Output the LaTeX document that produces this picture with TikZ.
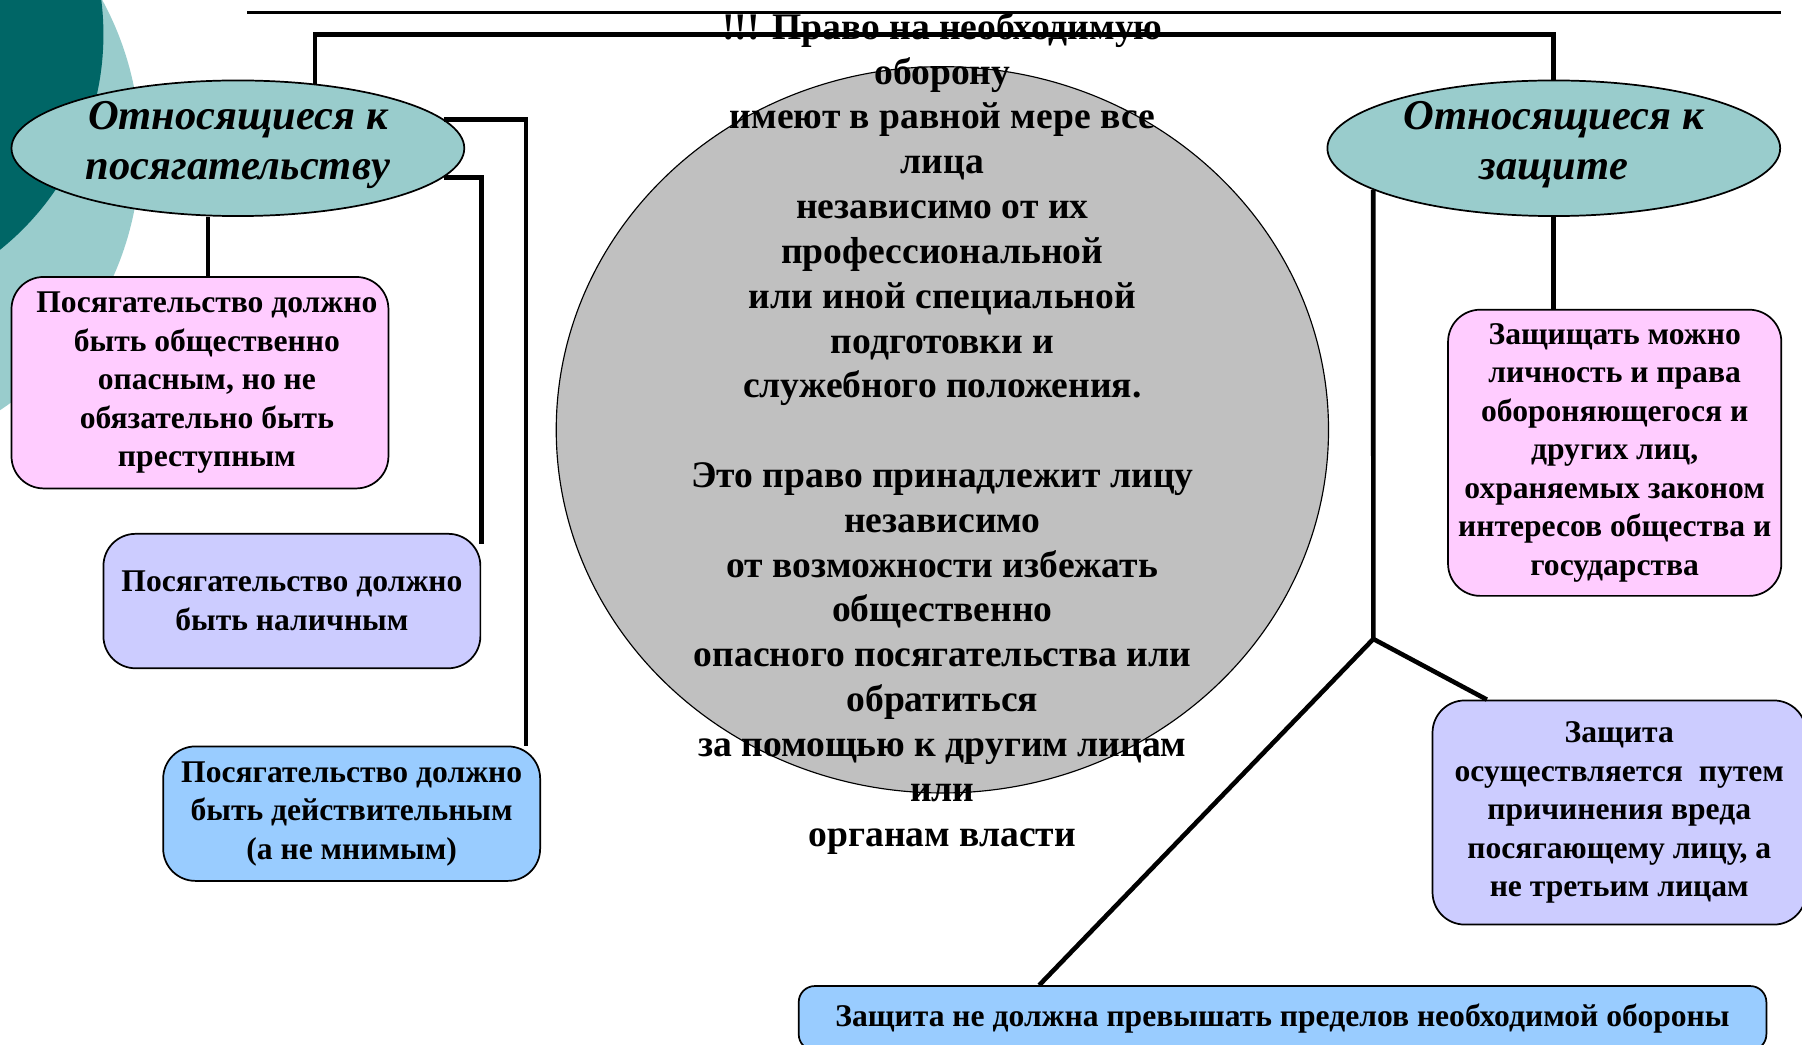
\documentclass[tikz,border=0pt]{standalone}
\usepackage{fontspec}
\setmainfont{Liberation Serif}
\usetikzlibrary{shapes.geometric}
\definecolor{tealdark}{HTML}{006666}
\definecolor{teallight}{HTML}{99CCCC}
\definecolor{pinkbox}{HTML}{FFCCFF}
\definecolor{lilacbox}{HTML}{CCCCFF}
\definecolor{bluebox}{HTML}{99CCFF}
\definecolor{circgray}{HTML}{C0C0C0}
\tikzstyle{every node}=[font=\bfseries]
\tikzstyle{conn}=[line width=4pt,line join=miter]
\tikzstyle{oval}=[ellipse,draw,line width=1.5pt,fill=teallight,minimum width=394pt,minimum height=118pt,inner sep=0pt]
\tikzstyle{ovaltxt}=[font=\bfseries\itshape\fontsize{37}{44}\selectfont,align=center]
\tikzstyle{card}=[draw,line width=1.5pt,rounded corners=28pt,align=center,inner sep=0pt,font=\bfseries\fontsize{27.5}{33.5}\selectfont]

\begin{document}
\begin{tikzpicture}[x=1pt,y=-1pt]
    \clip (0,0) rectangle (1568,909);

    % Background circles and top rule
    \fill[teallight] (-150,130) circle[radius=272pt];
    \fill[tealdark] (-150,30) circle[radius=240pt];
    \draw[line width=2pt] (215,11) -- (1550,11);

    % Ovals
    \node[oval] (att) at (207,129) {};
    \node[ovaltxt,yshift=3pt] at (att) {Относящиеся к\\посягательству};
    \node[oval] (def) at (1352,129) {};
    \node[ovaltxt,yshift=3pt] at (def) {Относящиеся к\\защите};

    % Central circle
    \node[ellipse,draw,fill=circgray,line width=1pt,minimum width=672pt,minimum height=632pt] (law) at (820,374) {};

    % Boxes for the attack
    \node[card,fill=pinkbox,minimum width=328pt,minimum height=184pt] (att1) at (174,333)
    {\hspace*{12pt}Посягательство должно\\\hspace*{12pt}быть общественно\\\hspace*{12pt}опасным, но не\\\hspace*{12pt}обязательно быть\\\hspace*{12pt}преступным};
    \node[card,fill=lilacbox,minimum width=328pt,minimum height=117pt] (att2) at (254,523)
    {Посягательство должно\\быть наличным};
    \node[card,fill=bluebox,minimum width=328pt,minimum height=117pt] (att3) at (306,708)
    {Посягательство должно\\быть действительным\\(а не мнимым)};

    % Boxes for the defence
    \node[card,fill=pinkbox,minimum width=290pt,minimum height=249pt] (def1) at (1405,394)
    {Защищать можно\\личность и права\\обороняющегося и\\других лиц,\\охраняемых законом\\интересов общества и\\государства};
    \node[card,fill=lilacbox,minimum width=325pt,minimum height=195pt] (def2) at (1409,707)
    {Защита\\осуществляется\ \ путем\\причинения вреда\\посягающему лицу, а\\не третьим лицам};
    \node[card,fill=bluebox,minimum width=842pt,minimum height=56pt,rounded corners=14pt] (def3) at (1116,886)
    {Защита не должна превышать пределов необходимой обороны};

    % Connectors
    \coordinate (top) at (820,30);
    \coordinate (fork) at (1195,556);
    \draw[conn] (att.40) |- (top) -| (def.north);
    \draw[conn] (att.8) -| ([xshift=-13pt]att3.north east);
    \draw[conn] (att.-8) -| ([yshift=-10pt]att2.north east);
    \draw[conn] ([xshift=7pt]att1.north) -- ([xshift=7pt]att1.north |- att.south);
    \draw[conn] (def.south) -- (def.south |- def1.north);
    \draw[conn] (def.193) -- (fork) -- ([xshift=48pt]def2.north west);
    \draw[conn] (fork) -- ([xshift=210pt]def3.north west);

    % Text over the circle
    \node[font=\bfseries\fontsize{32.7}{39}\selectfont,align=center] (lawtxt) at (820,377)
    {!!! Право на необходимую\\оборону\\имеют в равной мере все\\лица\\независимо от их\\профессиональной\\или иной специальной\\подготовки и\\служебного положения.\\[39pt]
    Это право принадлежит лицу\\независимо\\от возможности избежать\\общественно\\опасного посягательства или\\обратиться\\за помощью к другим лицам\\или\\органам власти};
\end{tikzpicture}
\end{document}
